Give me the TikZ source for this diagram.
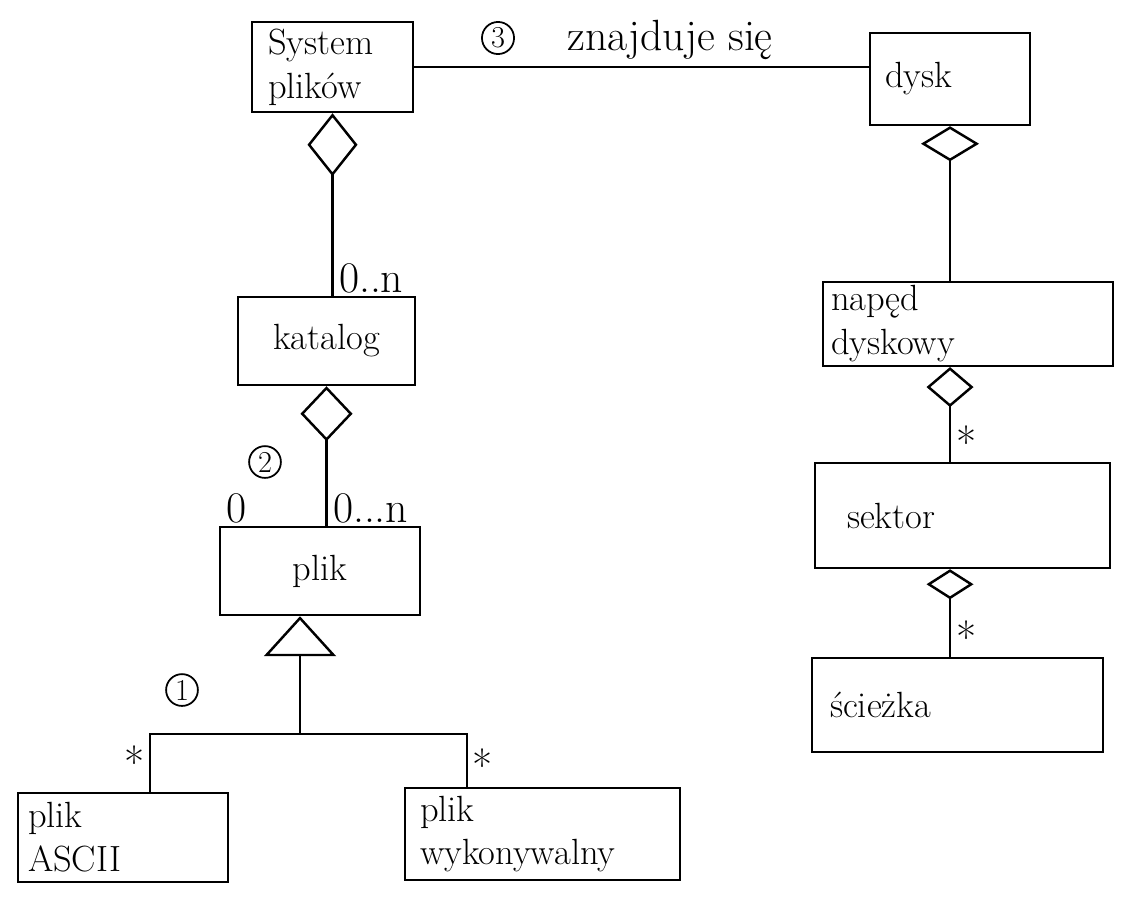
\documentclass[tikz,border=0pt]{standalone}
\usepackage{tikz}
\usetikzlibrary{arrows.meta}

\tikzset{
  klasa/.style={draw, line width=1.4pt, align=left, font=\huge, inner ysep=2pt},
  krotnosc/.style={font=\Huge, inner sep=1pt},
  numer/.style={draw, circle, line width=1pt, inner sep=1.5pt, font=\LARGE},
  agregacja/.style 2 args={-{Diamond[open, length=#1, width=#2]}},
  dziedziczenie/.style={-{Triangle[open, length=0.8cm, width=1.44cm]}}
}

\begin{document}
\begin{tikzpicture}[line width=1.4pt]
			%%%%% START %%%%%
			\useasboundingbox (0, 0) rectangle (22.5, -17.92);
			
			% klasy po lewej
			\node[klasa, minimum width=3.22cm, minimum height=1.8cm, text width=2.58cm, inner xsep=0.32cm] (system) at (6.65, -1.34) {System\\plików};
			\node[klasa, minimum width=3.54cm, minimum height=1.76cm] (katalog) at (6.53, -6.82) {katalog};
			\node[klasa, minimum width=4.0cm, minimum height=1.76cm] (plik) at (6.4, -11.42) {plik};
			\node[klasa, minimum width=4.2cm, minimum height=1.78cm, text width=3.8cm, inner xsep=0.2cm] (ascii) at (2.46, -16.75) {plik\\ASCII};
			\node[klasa, minimum width=5.5cm, minimum height=1.84cm, text width=4.9cm, inner xsep=0.3cm] (wyk) at (10.85, -16.68) {plik\\wykonywalny};
			
			% klasy po prawej
			\node[klasa, minimum width=3.2cm, minimum height=1.84cm, text width=2.6cm, inner xsep=0.3cm] (dysk) at (19.0, -1.58) {dysk};
			\node[klasa, minimum width=5.8cm, minimum height=1.64cm, text width=5.48cm, inner xsep=0.16cm] (naped) at (19.36, -6.48) {napęd\\dyskowy};
			\node[klasa, minimum width=5.9cm, minimum height=2.1cm, text width=4.62cm, inner xsep=0.64cm] (sektor) at (19.25, -10.31) {sektor};
			\node[klasa, minimum width=5.82cm, minimum height=1.88cm, text width=5.1cm, inner xsep=0.36cm] (sciezka) at (19.15, -14.1) {ścieżka};
			
			% asocjacja
			\draw (system.east) -- (system.east -| dysk.west);
			\node[font=\Huge, anchor=base] (asocjacja) at (13.4, -1.0) {znajduje się};
			\node[numer] (nr3) at (9.96, -0.76) {3};
			
			% agregacje
			\draw[agregacja={1.26cm}{1.0cm}] (katalog.north -| system.south) -- (system.south);
			\draw[agregacja={1.1cm}{1.04cm}] (plik.north -| katalog.south) -- (katalog.south);
			\draw[agregacja={0.7cm}{1.16cm}] (naped.north -| dysk.south) -- (dysk.south);
			\draw[agregacja={0.8cm}{0.94cm}] (sektor.north -| dysk.south) -- (naped.south -| dysk.south);
			\draw[agregacja={0.6cm}{0.94cm}] (sciezka.north -| dysk.south) -- (sektor.south -| dysk.south);
			
			\node[krotnosc, anchor=south west] (k1) at ([xshift=2pt]katalog.north -| system.south) {0..n};
			\node[krotnosc, anchor=south west] (k2) at ([xshift=2pt]plik.north -| katalog.south) {0...n};
			\node[krotnosc, anchor=south] (k3) at ([xshift=0.36cm]plik.north west) {0};
			\node[krotnosc, anchor=south west] (k4) at ([xshift=2pt]sektor.north -| dysk.south) {*};
			\node[krotnosc, anchor=south west] (k5) at ([xshift=2pt]sciezka.north -| dysk.south) {*};
			\node[numer] (nr2) at (5.3, -9.24) {2};
			
			% dziedziczenie
			\coordinate (rozgal) at (6.0, -14.68);
			\draw[dziedziczenie] (rozgal) -- (rozgal |- plik.south);
			\draw ([xshift=0.54cm]ascii.north) |- (rozgal) -| ([xshift=-1.51cm]wyk.north);
			\node[krotnosc, anchor=south east] (k6) at ([xshift=0.5cm, yshift=0.2cm]ascii.north) {*};
			\node[krotnosc, anchor=south west] (k7) at ([xshift=-1.45cm, yshift=0.05cm]wyk.north) {*};
			\node[numer] (nr1) at (3.64, -13.8) {1};
			
			%%%%% END %%%%%
\end{tikzpicture}
\end{document}
